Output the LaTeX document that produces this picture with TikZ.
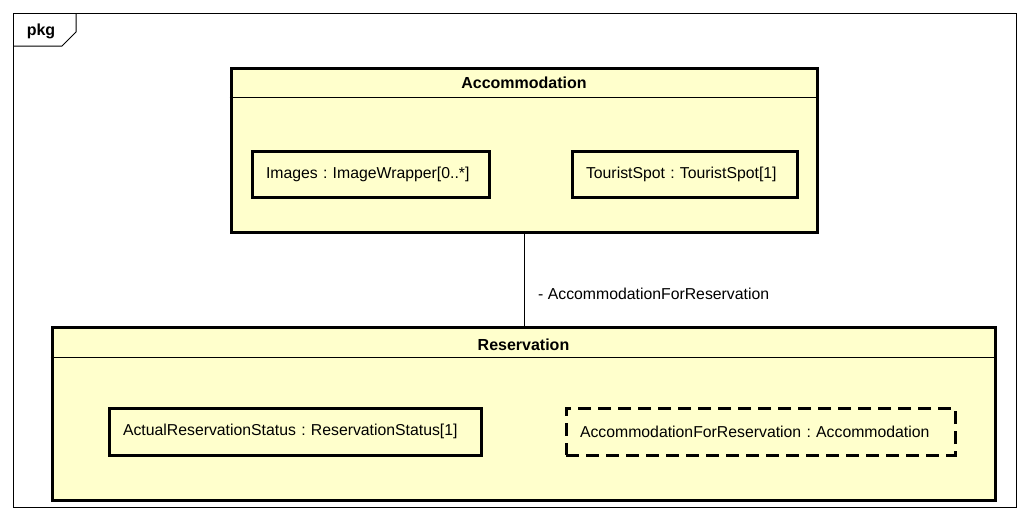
\documentclass[tikz,border=0pt]{standalone}
\usepackage{fontspec}
\setmainfont{Liberation Sans}
\usepackage{tikz}
\definecolor{pkgfill}{HTML}{FFFFCC}
\frenchspacing

\begin{document}
\begin{tikzpicture}
[
x=1pt, y=-1pt,
every node/.style={font=\fontsize{15.8}{18}\selectfont, inner sep=0pt},
pkgbox/.style={draw, fill=pkgfill, line width=3pt, rectangle},
partbox/.style={draw, line width=3pt, rectangle, align=left, inner xsep=14pt},
refbox/.style={partbox, dash pattern=on 13pt off 7pt},
title/.style={font=\fontsize{16}{18}\selectfont\bfseries}]
\useasboundingbox[fill=white] (0,0) rectangle (1028,520);
\draw[line width=1pt] (13,13) rectangle (1016,507);
\draw[line width=1pt] (13,46) -- (62,46) -- (76,32) -- (76,13);
\node[title] (frame) at (41,31) {pkg};

\node[pkgbox, minimum width=586pt, minimum height=164pt] (acc) at (524,150) {};
\node[title] (acctitle) at (524,83) {Accommodation};
\draw[line width=1pt] (acc.west |- 0,97) -- (acc.east |- 0,97);
\node[partbox, text width=209pt, minimum height=46pt] (images) at (370.5,174) {Images : ImageWrapper[0..*]};
\node[partbox, text width=197pt, minimum height=46pt] (spot) at (684.5,174) {TouristSpot : TouristSpot[1]};

\node[pkgbox, minimum width=943pt, minimum height=173pt] (res) at (523.5,413.5) {};
\node[title] (restitle) at (523.5,345) {Reservation};
\draw[line width=1pt] (res.west |- 0,357) -- (res.east |- 0,357);
\node[partbox, text width=344pt, minimum height=47pt] (status) at (295,431.5) {ActualReservationStatus : ReservationStatus[1]};
\node[refbox, text width=361pt, minimum height=47pt] (accref) at (760.5,431.5) {AccommodationForReservation : Accommodation};

\draw[line width=1pt] (acc.south) -- (acc.south |- res.north);
\node[anchor=west] (role) at (538,294) {- AccommodationForReservation};
\end{tikzpicture}
\end{document}
